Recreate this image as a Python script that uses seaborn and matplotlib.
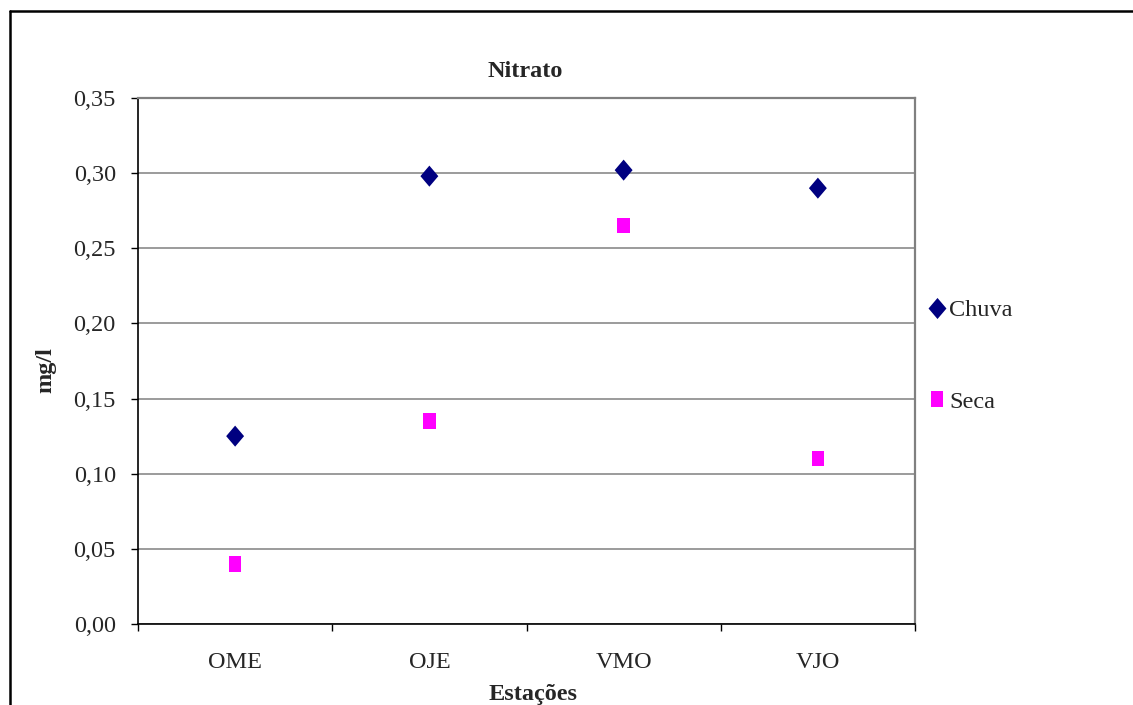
import pandas as pd
import seaborn as sns
import matplotlib.pyplot as plt
from matplotlib.path import Path
from matplotlib.lines import Line2D

# dados
estacoes = ['OME', 'OJE', 'VMO', 'VJO']
chuva = [0.125, 0.298, 0.302, 0.290]
seca = [0.040, 0.135, 0.265, 0.110]
series = ['Chuva', 'Seca']
y_ticks = [0.00, 0.05, 0.10, 0.15, 0.20, 0.25, 0.30, 0.35]
y_labels = ['0,00', '0,05', '0,10', '0,15', '0,20', '0,25', '0,30', '0,35']

df = pd.DataFrame({
    'Estação': estacoes * 2,
    'mg/l': chuva + seca,
    'serie': ['Chuva'] * len(estacoes) + ['Seca'] * len(estacoes),
})

sns.set_style("white")
plt.rcParams['font.family'] = ['Liberation Serif', 'DejaVu Serif']
FS = 17.5

W, H = 1133, 705
fig = plt.figure(figsize=(W / 100, H / 100), dpi=100)
ax = fig.add_axes([138 / W, 1 - 624 / H, (915 - 138) / W, (624 - 98) / H])

diamond = Path([(-0.85, 0), (0, 1), (0.85, 0), (0, -1), (-0.85, 0)],
               [Path.MOVETO, Path.LINETO, Path.LINETO, Path.LINETO, Path.CLOSEPOLY])
square = Path([(-0.8, -1), (0.8, -1), (0.8, 1), (-0.8, 1), (-0.8, -1)],
              [Path.MOVETO, Path.LINETO, Path.LINETO, Path.LINETO, Path.CLOSEPOLY])

sns.scatterplot(data=df, x='Estação', y='mg/l', hue='serie', style='serie', size='serie',
                palette={'Chuva': '#000080', 'Seca': '#FF00FF'},
                markers={'Chuva': diamond, 'Seca': square},
                sizes={'Chuva': 230, 'Seca': 122},
                linewidth=0, ax=ax, zorder=3)

ax.set_xlim(-0.5, 3.5)
ax.set_ylim(0, 0.35)
ax.set_yticks(y_ticks, labels=y_labels)
ax.set_xticks([-0.5, 0.5, 1.5, 2.5, 3.5], labels=[])
ax.set_xticks(range(len(estacoes)), labels=estacoes, minor=True)
ax.tick_params(axis='y', which='major', direction='out', length=5, width=1, color='black',
               left=True, pad=11, labelsize=FS)
ax.tick_params(axis='x', which='major', direction='out', length=5, width=1, color='black',
               bottom=True)
ax.tick_params(axis='x', which='minor', length=0, pad=20, labelsize=FS)
ax.set_xlabel('')
ax.set_ylabel('')

ax.grid(axis='y', color='#808080', linewidth=1.1)
ax.grid(axis='x', visible=False)
for side in ['left', 'bottom']:
    ax.spines[side].set_color('black')
    ax.spines[side].set_linewidth(1.2)
for side in ['top', 'right']:
    ax.spines[side].set_color('#808080')
    ax.spines[side].set_linewidth(1.6)

sns.move_legend(ax, loc='center left', bbox_to_anchor=(929.7 / W, 1 - 356 / H),
                bbox_transform=fig.transFigure, title=None, frameon=False,
                fontsize=FS, handlelength=0.6, handletextpad=0.2, labelspacing=2.85,
                borderpad=0, borderaxespad=0)

fig.text(525.5 / W, 1 - 77 / H, 'Nitrato', ha='center', va='baseline',
         fontsize=FS, fontweight='bold')
fig.text(533 / W, 1 - 700 / H, 'Estações', ha='center', va='baseline',
         fontsize=FS, fontweight='bold')
fig.text(46 / W, 1 - 370 / H, 'mg/l', ha='center', va='center', rotation=90,
         fontsize=FS, fontweight='bold')

# moldura externa do gráfico
fig.add_artist(Line2D([10.5 / W, 10.5 / W], [1 - 11 / H, 0], color='black', linewidth=1.8))
fig.add_artist(Line2D([10.5 / W, 1], [1 - 11 / H, 1 - 11 / H], color='black', linewidth=1.8))

fig.savefig('out.png', dpi=100)
